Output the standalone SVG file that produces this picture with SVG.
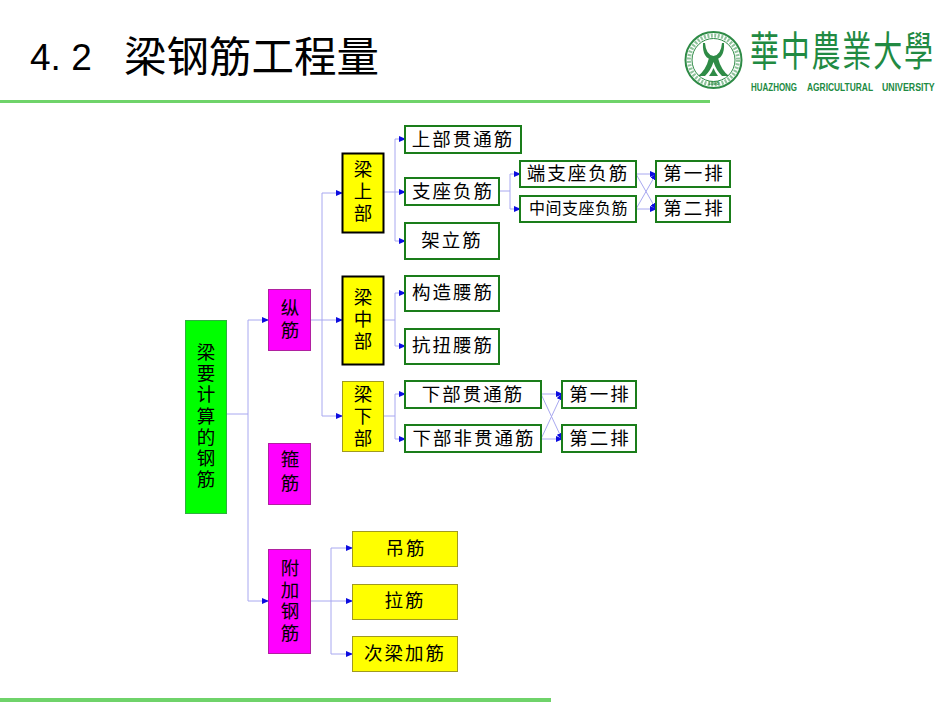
<svg xmlns="http://www.w3.org/2000/svg" width="950" height="713" viewBox="0 0 950 713">
<style>
text{font-family:"Noto Sans CJK SC","Liberation Sans",sans-serif;fill:#000;text-anchor:middle}
.t{font-size:18.500px;letter-spacing:2px}
.v{font-size:18.500px;writing-mode:vertical-rl}
.g{fill:#fff;stroke:#1a7d1a;stroke-width:2}
.y{fill:#ff0;stroke:#a09a20;stroke-width:1}
.b{fill:#ff0;stroke:#000;stroke-width:2}
.m{fill:#f0f;stroke:#b020a0;stroke-width:1}
.c{fill:none;stroke:#a8a8f0;stroke-width:1}
.a{fill:none;stroke:#a8a8f0;stroke-width:1;marker-end:url(#ar)}
.w{font-family:"Liberation Sans",sans-serif;font-size:10.500px;font-weight:bold;fill:#218a42;text-anchor:start}
</style>
<defs><marker id="ar" markerUnits="userSpaceOnUse" markerWidth="7" markerHeight="6" refX="6" refY="3" orient="auto"><path d="M0 0L7 3L0 6Z" fill="#0c0ce0"/></marker></defs>
<rect width="950" height="713" fill="#fff"/>
<g id="title">
<text x="30" y="70" style="font-family:'Liberation Sans',sans-serif;font-size:37px;text-anchor:start">4. 2</text>
<text x="124" y="72" style="font-size:42.500px;text-anchor:start">梁钢筋工程量</text>
</g>
<g id="rules"><rect x="0" y="100" width="710" height="3" fill="#6fd36a"/><rect x="0" y="698" width="551" height="4" fill="#6fd36a"/></g>
<g id="logo">
<circle cx="713.500" cy="60" r="28" fill="#fff" stroke="#2e8b46" stroke-width="2"/>
<circle cx="713.500" cy="60" r="24.500" fill="none" stroke="#8fc39c" stroke-width="4" stroke-dasharray="2 1.500"/>
<circle cx="713.500" cy="60" r="21.500" fill="#fff" stroke="#2e8b46" stroke-width="1"/>
<path d="M705 43Q706 55 713.500 56Q721 55 722 43L724 43Q725 59 713.500 60Q702 59 703 43Z" fill="#2e8b46"/>
<path d="M698 76Q706 70 709 58H718Q721 70 729 76Z" fill="#2e8b46"/>
<path d="M705 76Q711 70 713.500 62Q716 70 722 76Z" fill="#fff"/>
<path d="M709 76Q712 72 713.500 68Q715 72 718 76Z" fill="#2e8b46"/>
<text x="713.500" y="85" style="font-family:'Liberation Sans',sans-serif;font-size:5px;font-weight:bold;fill:#2e8b46">1898</text>
<text transform="translate(750 66) scale(1 1.400)" x="0" y="0" style="font-size:29px;letter-spacing:1.800px;fill:#218a42;font-family:'Noto Sans CJK TC',sans-serif;text-anchor:start">華中農業大學</text>
<text class="w" transform="translate(751 91) scale(.76 1)">HUAZHONG</text>
<text class="w" transform="translate(807 91) scale(.8 1)">AGRICULTURAL</text>
<text class="w" transform="translate(882 91) scale(.837 1)">UNIVERSITY</text>
</g>
<g id="connectors">
<path class="c" d="M227 414H248"/>
<path class="a" d="M248 414V320H268"/>
<path class="a" d="M248 414V601H268"/>
<path class="c" d="M311 320H322"/>
<path class="a" d="M322 320V193H342"/>
<path class="a" d="M322 320H342"/>
<path class="a" d="M322 320V416H342"/>
<path class="c" d="M384 192H395"/>
<path class="a" d="M395 192V139H405"/>
<path class="a" d="M395 192H405"/>
<path class="a" d="M395 192V241H405"/>
<path class="c" d="M384 320H395"/>
<path class="a" d="M395 320V293H405"/>
<path class="a" d="M395 320V346H405"/>
<path class="c" d="M384 416H395"/>
<path class="a" d="M395 416V394H405"/>
<path class="a" d="M395 416V439H405"/>
<path class="c" d="M499 191H510"/>
<path class="a" d="M510 191V174H520"/>
<path class="a" d="M510 191V209H520"/>
<path class="a" d="M636 174H656"/>
<path class="a" d="M636 174L656 209"/>
<path class="a" d="M636 209L656 174"/>
<path class="a" d="M636 209H656"/>
<path class="a" d="M541 394H562"/>
<path class="a" d="M541 394L562 439"/>
<path class="a" d="M541 439L562 394"/>
<path class="a" d="M541 439H562"/>
<path class="c" d="M311 601H331"/>
<path class="a" d="M331 601V548H352"/>
<path class="a" d="M331 601H352"/>
<path class="a" d="M331 601V654H352"/>
</g>
<g id="root"><rect x="185.500" y="320.500" width="41" height="193" fill="#0f0" stroke="#30b040"/><text class="v" x="206" y="417" style="letter-spacing:2.700px">梁要计算的钢筋</text></g>
<g id="n-zongjin"><rect class="m" x="268.500" y="289.500" width="42" height="61"/><text class="v" x="290" y="321" style="letter-spacing:3.500px">纵筋</text></g>
<g id="n-gujin"><rect class="m" x="268.500" y="443.500" width="42" height="61"/><text class="v" x="290" y="474" style="letter-spacing:5.500px">箍筋</text></g>
<g id="n-fujia"><rect class="m" x="268.500" y="549.500" width="42" height="104"/><text class="v" x="290" y="602" style="letter-spacing:3.200px">附加钢筋</text></g>
<g id="n-shang"><rect class="b" x="342.500" y="153.500" width="41" height="79"/><text class="v" x="363" y="193" style="letter-spacing:3.500px">梁上部</text></g>
<g id="n-zhong"><rect class="b" x="342.500" y="276.500" width="41" height="88"/><text class="v" x="363" y="321" style="letter-spacing:3.500px">梁中部</text></g>
<g id="n-xia"><rect class="y" x="342.500" y="381.500" width="41" height="70"/><text class="v" x="363" y="418" style="letter-spacing:3.500px">梁下部</text></g>
<g id="n1"><rect class="g" x="405" y="126" width="116" height="27"/><text class="t" x="463" y="146">上部贯通筋</text></g>
<g id="n2"><rect class="g" x="405" y="178" width="94" height="27"/><text class="t" x="453" y="198">支座负筋</text></g>
<g id="n3"><rect class="g" x="405" y="223" width="94" height="36"/><text class="t" x="452" y="247">架立筋</text></g>
<g id="n4"><rect class="g" x="405" y="276" width="94" height="35"/><text class="t" x="453" y="299">构造腰筋</text></g>
<g id="n5"><rect class="g" x="405" y="329" width="94" height="35"/><text class="t" x="453" y="352">抗扭腰筋</text></g>
<g id="n6"><rect class="g" x="405" y="381" width="136" height="27"/><text class="t" x="473" y="401">下部贯通筋</text></g>
<g id="n7"><rect class="g" x="405" y="425" width="136" height="27"/><text class="t" x="474" y="445">下部非贯通筋</text></g>
<g id="n8"><rect class="g" x="520" y="161" width="116" height="26"/><text class="t" x="578" y="180">端支座负筋</text></g>
<g id="n9"><rect class="g" x="520" y="196" width="116" height="26"/><text x="578.500" y="214" style="font-size:16px;letter-spacing:.5px">中间支座负筋</text></g>
<g id="n10"><rect class="g" x="656" y="161" width="74" height="26"/><text class="t" x="694" y="180">第一排</text></g>
<g id="n11"><rect class="g" x="656" y="196" width="74" height="26"/><text class="t" x="694" y="215">第二排</text></g>
<g id="n12"><rect class="g" x="562" y="381" width="74" height="27"/><text class="t" x="600" y="401">第一排</text></g>
<g id="n13"><rect class="g" x="562" y="425" width="74" height="27"/><text class="t" x="600" y="445">第二排</text></g>
<g id="n14"><rect class="y" x="352.500" y="531.500" width="105" height="35"/><text class="t" x="406" y="555">吊筋</text></g>
<g id="n15"><rect class="y" x="352.500" y="584.500" width="105" height="35"/><text class="t" x="405" y="607">拉筋</text></g>
<g id="n16"><rect class="y" x="352.500" y="636.500" width="105" height="35"/><text class="t" x="405" y="660">次梁加筋</text></g>
</svg>
